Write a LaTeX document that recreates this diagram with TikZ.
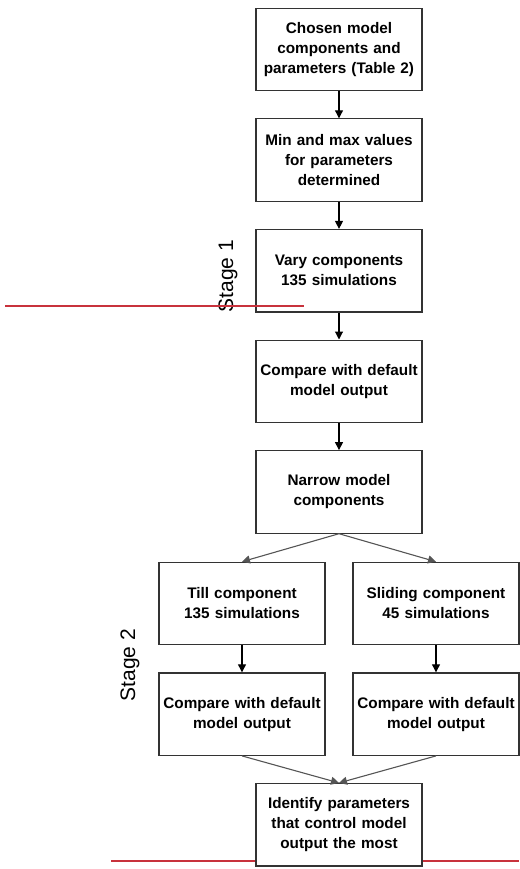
\documentclass[tikz,border=0pt]{standalone}
\usepackage{fontspec}
\setmainfont{Liberation Sans}
\usepackage{tikz}
\usetikzlibrary{
  arrows.meta,
  positioning,
}
\definecolor{boxline}{HTML}{333333}
\definecolor{diagline}{HTML}{555555}
\definecolor{markred}{HTML}{C8323C}

\begin{document}
\begin{tikzpicture}[
  x=1pt, y=1pt,
  node distance=27pt and 28pt,
  box/.style={rectangle, draw=boxline, line width=1.2pt, fill=white, minimum width=166pt, minimum height=82.4pt, text width=160pt, inner sep=2pt, align=center, font=\fontsize{15.3}{20}\selectfont\bfseries},
  stagelbl/.style={rotate=90, font=\fontsize{21}{25}\selectfont},
  arr/.style={-{Triangle[length=8pt, width=8pt]}, line width=1.1pt, color=black},
  darr/.style={-{Triangle[length=8pt, width=8pt]}, line width=1.1pt, color=diagline},
  redmark/.style={color=markred},
]
  \useasboundingbox (0,0) rectangle (519,-869);

  % Red mark under the last box
  \draw[redmark, line width=1.2pt] (111,-861) -- (519,-861);

  % Stage 1
  \node[box] (chosen) at (339,-49.5) {Chosen model\\components and\\parameters (Table 2)};
  \node[box, below=of chosen] (minmax) {Min and max values\\for parameters\\determined};
  \node[box, below=of minmax] (vary) {Vary components\\135 simulations};
  \node[box, below=of vary] (compare) {Compare with default\\model output};
  \node[box, below=of compare] (narrow) {Narrow model\\components};

  % Stage 2
  \node[box, below=28pt of narrow, xshift=-97pt] (till) {Till component\\135 simulations};
  \node[box, below=28pt of narrow, xshift=97pt] (sliding) {Sliding component\\45 simulations};
  \node[box, below=of till] (cmptill) {Compare with default\\model output};
  \node[box, below=of sliding] (cmpslide) {Compare with default\\model output};
  \node[box, below=of cmptill, xshift=97pt] (identify) {Identify parameters\\that control model\\output the most};

  % Stage labels
  \node[stagelbl] (stage1) at (228,-276) {Stage 1};
  \node[stagelbl] (stage2) at (130,-665) {Stage 2};

  % Red mark over stage 1
  \draw[redmark, line width=2pt] (5,-306) -- (304,-306);

  % Arrows
  \draw[arr] (chosen) -- (minmax);
  \draw[arr] (minmax) -- (vary);
  \draw[arr] (vary) -- (compare);
  \draw[arr] (compare) -- (narrow);

  \draw[darr] (narrow.south) -- (till.north);
  \draw[darr] (narrow.south) -- (sliding.north);
  \draw[arr] (till) -- (cmptill);
  \draw[arr] (sliding) -- (cmpslide);
  \draw[darr] (cmptill.south) -- (identify.north);
  \draw[darr] (cmpslide.south) -- (identify.north);

\end{tikzpicture}
\end{document}
